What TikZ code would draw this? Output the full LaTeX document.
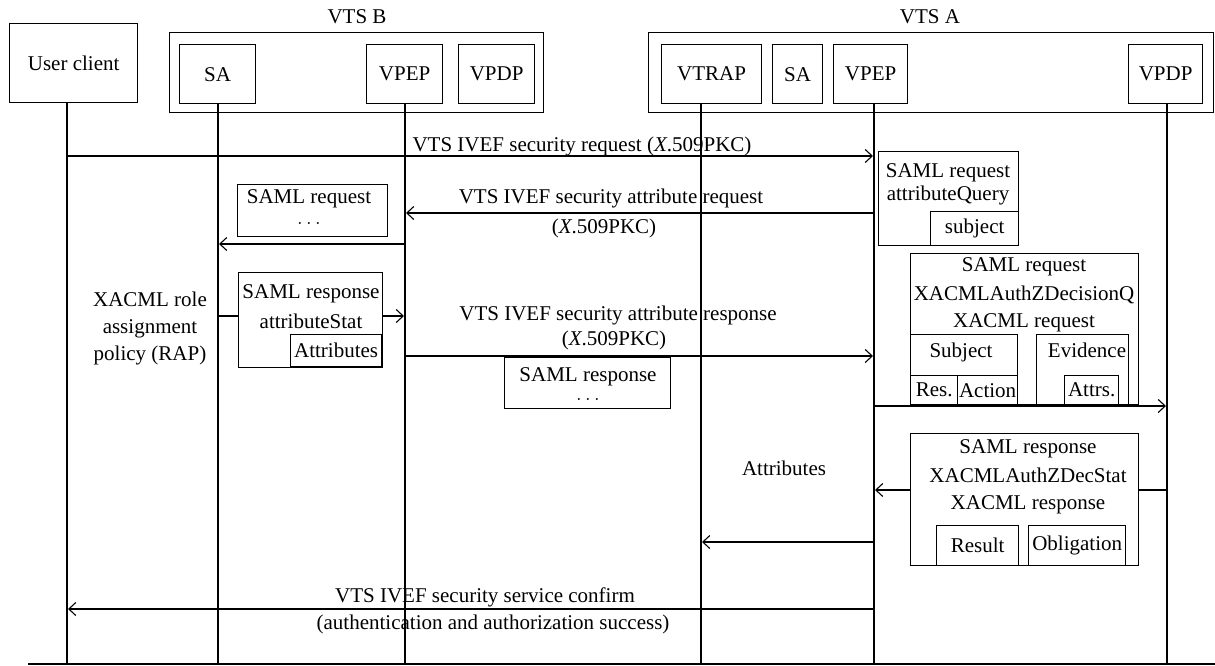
\documentclass[tikz,border=0pt]{standalone}
\usepackage{fontspec}
\setmainfont{Liberation Serif}
\usetikzlibrary{arrows.meta}
\newcommand\myfs{\fontsize{21}{26}\selectfont}
\begin{document}
\begin{tikzpicture}[x=1pt,y=-1pt,
  box/.style={draw, line width=1.3pt, inner sep=0pt, anchor=north west, font=\myfs},
  wbox/.style={box, fill=white},
  t/.style={inner sep=0pt, anchor=base, font=\myfs},
  life/.style={line width=1.3pt},
  msg/.style={line width=1.3pt, -{Straight Barb[length=7pt,width=13pt,line width=1.1pt]}}
]
\useasboundingbox (0,0) rectangle (1215,665);

% ---------- participants ----------
\node[box, minimum width=128pt, minimum height=79pt] (uc) at (9,23) {User client};
\node[box, minimum width=374pt, minimum height=80pt] (vtsb) at (169,32) {};
\node[t] (vtsbL) at (357,23) {VTS B};
\node[box, minimum width=76pt, minimum height=59pt] (saB) at (179,44) {SA};
\node[box, minimum width=76pt, minimum height=59pt] (vpepB) at (366,44) {VPEP};
\node[box, minimum width=76pt, minimum height=59pt] (vpdpB) at (458,44) {VPDP};
\node[box, minimum width=565pt, minimum height=80pt] (vtsa) at (648,32) {};
\node[t] (vtsaL) at (930,23) {VTS A};
\node[box, minimum width=100pt, minimum height=59pt] (vtrap) at (661,44) {VTRAP};
\node[box, minimum width=50pt, minimum height=59pt] (saA) at (772,44) {SA};
\node[box, minimum width=74pt, minimum height=59pt] (vpepA) at (833,44) {VPEP};
\node[box, minimum width=74pt, minimum height=59pt] (vpdpA) at (1128,44) {VPDP};

% ---------- lifelines ----------
\coordinate (ucT) at (67,102);    \coordinate (ucB) at (67,664);
\coordinate (saBT) at (218,103);  \coordinate (saBB) at (218,664);
\coordinate (vpBT) at (405,103);  \coordinate (vpBB) at (405,664);
\coordinate (vtT) at (701,103);   \coordinate (vtB) at (701,664);
\coordinate (vpAT) at (874,103);  \coordinate (vpAB) at (874,664);
\coordinate (vdAT) at (1167,103); \coordinate (vdAB) at (1167,664);
\coordinate (baseL) at (28,664);  \coordinate (baseR) at (1215,664);
\draw[life] (ucT) -- (ucB);
\draw[life] (saBT) -- (saBB);
\draw[life] (vpBT) -- (vpBB);
\draw[life] (vtT) -- (vtB);
\draw[life] (vpAT) -- (vpAB);
\draw[life] (vdAT) -- (vdAB);
\draw[life] (baseL) -- (baseR);

% ---------- message end points ----------
\coordinate (m1s) at (67,156);   \coordinate (m1e) at (873,156);
\coordinate (m2s) at (874,213);  \coordinate (m2e) at (406,213);
\coordinate (m3s) at (405,244);  \coordinate (m3e) at (219,244);
\coordinate (m4s) at (218,316);  \coordinate (m4e) at (404,316);
\coordinate (m5s) at (405,356);  \coordinate (m5e) at (873,356);
\coordinate (m6s) at (874,406);  \coordinate (m6e) at (1166,406);
\coordinate (m7s) at (1167,490); \coordinate (m7e) at (875,490);
\coordinate (m8s) at (874,542);  \coordinate (m8e) at (702,542);
\coordinate (m9s) at (874,609);  \coordinate (m9e) at (68,609);
\draw[msg] (m1s) -- (m1e);
\draw[msg] (m2s) -- (m2e);
\draw[msg] (m3s) -- (m3e);
\draw[msg] (m4s) -- (m4e);
\draw[msg] (m5s) -- (m5e);
\draw[msg] (m6s) -- (m6e);
\draw[msg] (m7s) -- (m7e);
\draw[msg] (m8s) -- (m8e);
\draw[msg] (m9s) -- (m9e);

% ---------- message labels ----------
\node[t] (l1) at (582,151) {VTS IVEF security request (\textit{X}.509PKC)};
\node[t] (l2a) at (611,203) {VTS IVEF security attribute request};
\node[t] (l2b) at (604,233) {(\textit{X}.509PKC)};
\node[t] (l5a) at (618,320) {VTS IVEF security attribute response};
\node[t] (l5b) at (614,345) {(\textit{X}.509PKC)};
\node[t] (lat) at (784,475) {Attributes};
\node[t] (l9a) at (485,602) {VTS IVEF security service confirm};
\node[t] (l9b) at (493,629) {(authentication and authorization success)};
\node[t] (rap1) at (150,306) {XACML role};
\node[t] (rap2) at (150,333) {assignment};
\node[t] (rap3) at (150,360) {policy (RAP)};

% ---------- VTS B side messages ----------
\node[wbox, minimum width=150pt, minimum height=52pt] (sreqB) at (237,184) {};
\node[t, anchor=north, align=center] (sreqBt) at (309,189) {SAML request\\[-5pt]$\ldots$};

\node[wbox, minimum width=144pt, minimum height=95pt] (sresB) at (238,272) {};
\node[t] (sresB1) at (311,298) {SAML response};
\node[t] (sresB2) at (311,328) {attributeStat};
\node[box, minimum width=91pt, minimum height=32pt] (attrB) at (290,334) {Attributes};

\node[wbox, minimum width=166pt, minimum height=51pt] (sresM) at (504,357) {};
\node[t, anchor=north, align=center] (sresMt) at (588,367) {SAML response\\[-7pt]$\ldots$};

% ---------- VTS A side messages ----------
\node[wbox, minimum width=140pt, minimum height=94pt] (aq) at (878,151) {};
\node[t] (aq1) at (948,177) {SAML request};
\node[t] (aq2) at (948,200) {attributeQuery};
\node[box, minimum width=88pt, minimum height=34pt] (aqs) at (930,211) {subject};

\node[wbox, minimum width=228pt, minimum height=151pt] (xreq) at (910,253) {};
\node[t] (xreq1) at (1024,271) {SAML request};
\node[t] (xreq2) at (1024,300) {XACMLAuthZDecisionQ};
\node[t] (xreq3) at (1024,327) {XACML request};
\node[box, minimum width=107pt, minimum height=70pt] (subj) at (910,334) {};
\node[t] (subjL) at (961,357) {Subject};
\node[box, minimum width=47pt, minimum height=29pt] (res) at (910,375) {Res.};
\node[box, minimum width=60pt, minimum height=29pt] (act) at (957,375) {Action};
\node[box, minimum width=92pt, minimum height=70pt] (evid) at (1036,334) {};
\node[t] (evidL) at (1087,357) {Evidence};
\node[box, minimum width=54pt, minimum height=29pt] (attrs) at (1064,375) {Attrs.};

\node[wbox, minimum width=228pt, minimum height=132pt] (xres) at (910,433) {};
\node[t] (xres1) at (1028,453) {SAML response};
\node[t] (xres2) at (1028,482) {XACMLAuthZDecStat};
\node[t] (xres3) at (1028,509) {XACML response};
\node[box, minimum width=82pt, minimum height=40pt] (result) at (936,525) {Result};
\node[box, minimum width=97pt, minimum height=40pt] (oblig) at (1028,525) {Obligation};
\end{tikzpicture}
\end{document}
